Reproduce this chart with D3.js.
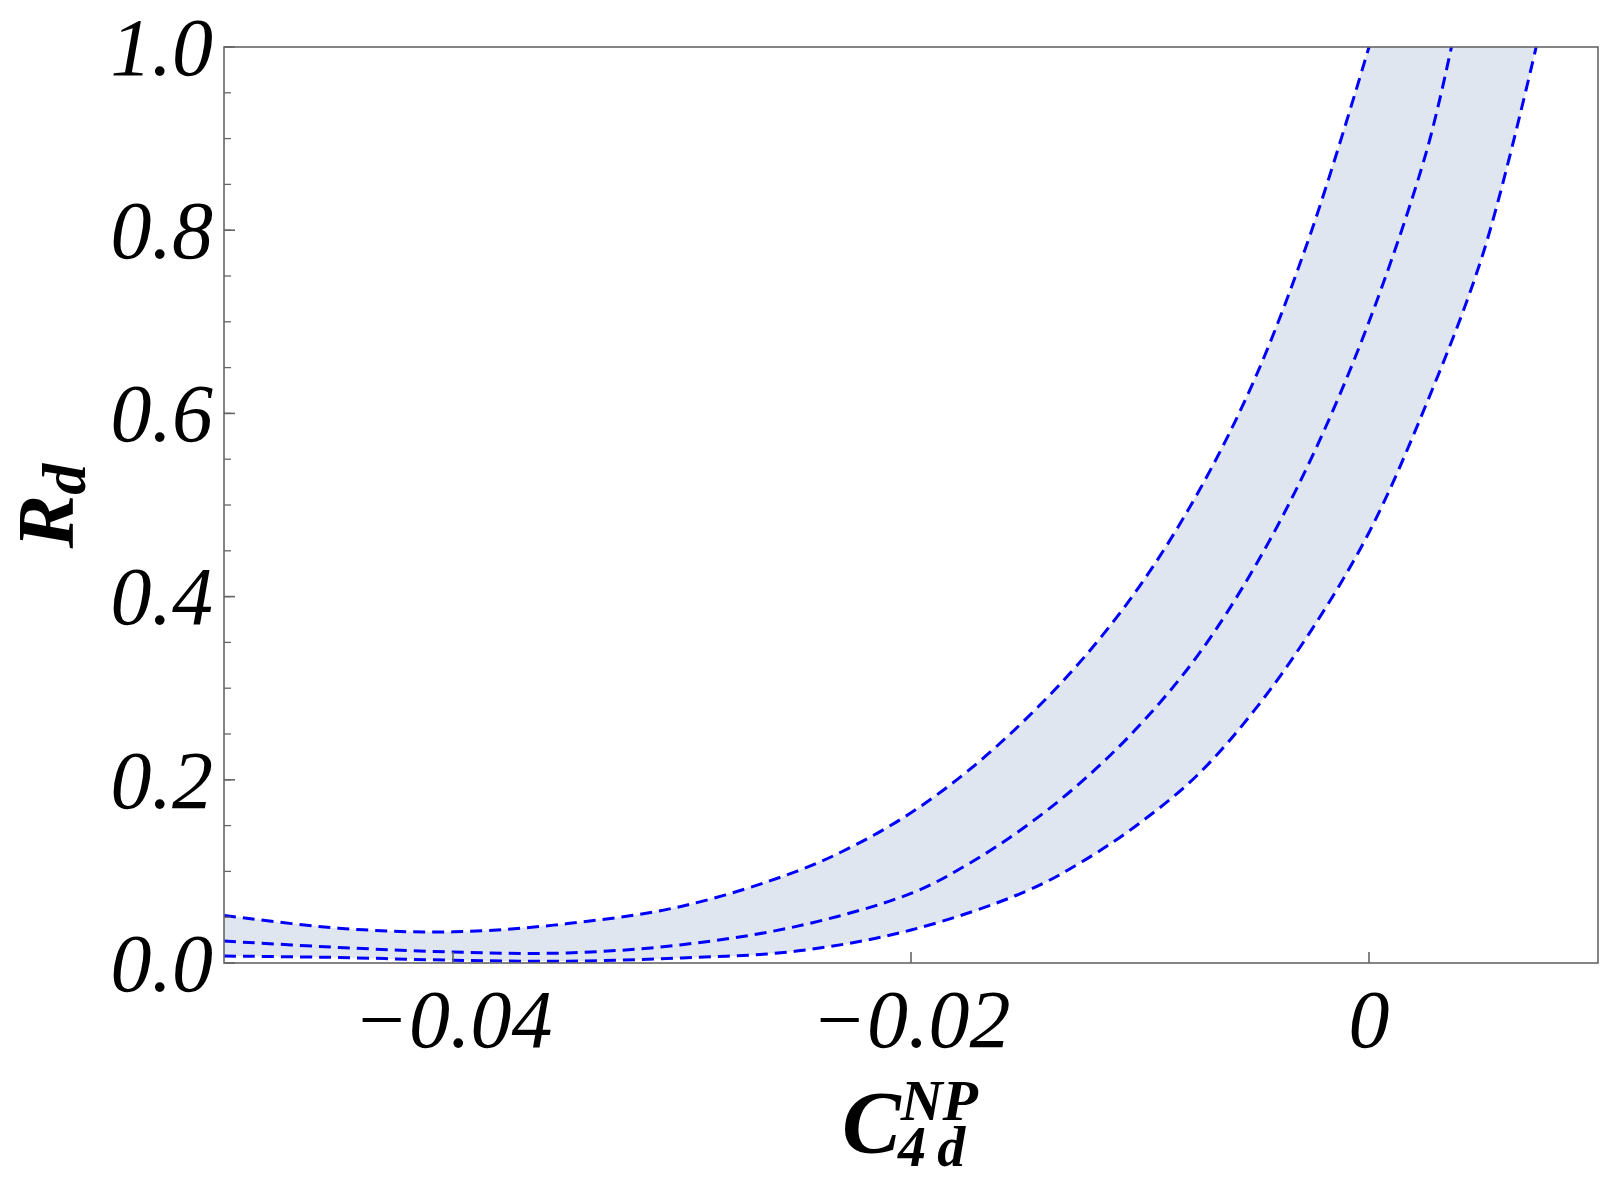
<!DOCTYPE html>
<html>
<head>
<meta charset="utf-8">
<script src="https://cdn.jsdelivr.net/npm/d3@7"></script>
<style>
  body { margin: 0; background: #fff; }
  text { font-family: "Liberation Serif", "Times New Roman", Times, serif; }
</style>
</head>
<body>
<div id="chart"></div>
<script>
// values
const upperC = [-0.05, -0.045, -0.04, -0.035, -0.03, -0.025, -0.0225, -0.02, -0.0175, -0.015, -0.0125, -0.01, -0.0075, -0.005, -0.0025, 0.0];
const upperR = [0.052, 0.038, 0.034, 0.043, 0.062, 0.100, 0.128, 0.164, 0.210, 0.266, 0.332, 0.412, 0.512, 0.637, 0.800, 1.0];

const centralC = [-0.05, -0.045, -0.04, -0.035, -0.03, -0.025, -0.02, -0.0175, -0.015, -0.0125, -0.01, -0.0075, -0.005, -0.0025, 0.0, 0.0025, 0.0036];
const centralR = [0.024, 0.017, 0.012, 0.011, 0.020, 0.040, 0.076, 0.108, 0.149, 0.199, 0.260, 0.335, 0.432, 0.552, 0.700, 0.885, 1.0];

const lowerC = [-0.05, -0.045, -0.04, -0.035, -0.03, -0.025, -0.02, -0.015, -0.0125, -0.01, -0.0075, -0.005, -0.0025, 0.0, 0.0025, 0.005, 0.0073];
const lowerR = [0.0076, 0.006, 0.003, 0.002, 0.0055, 0.013, 0.036, 0.078, 0.111, 0.153, 0.205, 0.276, 0.364, 0.470, 0.610, 0.776, 1.0];

const xTicks = [-0.04, -0.02, 0];
const xTickLabels = ["\u22120.04", "\u22120.02", "0"];
const yTicks = [0, 0.2, 0.4, 0.6, 0.8, 1.0];
const yMinorTicks = d3.range(0, 1.0001, 0.05);

const width = 1600, height = 1181;
const margin = {top: 47, right: 2, bottom: 218, left: 224};

const svg = d3.select("#chart").append("svg")
    .attr("width", width)
    .attr("height", height);

const xScale = d3.scaleLinear()
    .domain([-0.05, 0.01])
    .range([margin.left, width - margin.right]);
const yScale = d3.scaleLinear()
    .domain([0, 1])
    .range([height - margin.bottom, margin.top]);

svg.append("clipPath").attr("id", "plot-clip")
    .append("rect")
    .attr("x", margin.left).attr("y", margin.top)
    .attr("width", width - margin.left - margin.right)
    .attr("height", height - margin.top - margin.bottom);

const zip = (xs, ys) => xs.map((x, i) => [x, ys[i]]);
const upper = zip(upperC, upperR);
const central = zip(centralC, centralR);
const lower = zip(lowerC, lowerR);

const line = d3.line()
    .x(d => xScale(d[0]))
    .y(d => yScale(d[1]))
    .curve(d3.curveCatmullRom.alpha(0.5));

const plot = svg.append("g").attr("clip-path", "url(#plot-clip)");

// band between upper and lower curve
const bandPath = line(upper) + line(lower.slice().reverse()).replace(/^M/, "L") + "Z";
plot.append("path")
    .attr("d", bandPath)
    .attr("fill", "#dfe6f0")
    .attr("stroke", "none");

[upper, central, lower].forEach(curve => {
    plot.append("path")
        .attr("d", line(curve))
        .attr("fill", "none")
        .attr("stroke", "#0000ff")
        .attr("stroke-width", 3)
        .attr("stroke-dasharray", "12,7");
});

// frame
svg.append("rect")
    .attr("x", margin.left).attr("y", margin.top)
    .attr("width", width - margin.left - margin.right)
    .attr("height", height - margin.top - margin.bottom)
    .attr("fill", "none")
    .attr("stroke", "#666")
    .attr("stroke-width", 1.6);

// y axis ticks, inside
const yAxis = svg.append("g");
yAxis.selectAll(".minor")
    .data(yMinorTicks)
    .join("line")
    .attr("x1", margin.left).attr("x2", margin.left + 7)
    .attr("y1", d => yScale(d)).attr("y2", d => yScale(d))
    .attr("stroke", "#666").attr("stroke-width", 1.3);
yAxis.selectAll(".major")
    .data(yTicks)
    .join("line")
    .attr("x1", margin.left).attr("x2", margin.left + 11)
    .attr("y1", d => yScale(d)).attr("y2", d => yScale(d))
    .attr("stroke", "#666").attr("stroke-width", 1.6);
yAxis.selectAll("text")
    .data(yTicks)
    .join("text")
    .attr("x", margin.left - 11)
    .attr("y", d => yScale(d))
    .attr("dy", "0.34em")
    .attr("text-anchor", "end")
    .attr("font-style", "italic")
    .attr("font-size", 82)
    .text(d3.format(".1f"));

// x axis ticks, inside
const xAxis = svg.append("g");
xAxis.selectAll("line")
    .data(xTicks)
    .join("line")
    .attr("x1", d => xScale(d)).attr("x2", d => xScale(d))
    .attr("y1", yScale(0)).attr("y2", yScale(0) - 11)
    .attr("stroke", "#666").attr("stroke-width", 1.6);
xAxis.selectAll("text")
    .data(xTicks)
    .join("text")
    .attr("x", d => xScale(d))
    .attr("y", 1047)
    .attr("text-anchor", "middle")
    .attr("font-style", "italic")
    .attr("font-size", 82)
    .text((d, i) => xTickLabels[i]);

// axis titles
const xTitle = svg.append("text")
    .attr("x", 842)
    .attr("y", 1152)
    .attr("font-style", "italic")
    .attr("font-weight", "bold")
    .attr("font-size", 88);
xTitle.append("tspan").text("C");
xTitle.append("tspan").attr("font-size", 58).attr("dy", -32).text("NP");
xTitle.append("tspan").attr("font-size", 56).attr("x", 898).attr("dy", 46).text("4\u2009d");

const yTitle = svg.append("text")
    .attr("transform", "translate(73,506) rotate(-90)")
    .attr("text-anchor", "middle")
    .attr("font-style", "italic")
    .attr("font-weight", "bold")
    .attr("font-size", 80);
yTitle.append("tspan").text("R");
yTitle.append("tspan").attr("font-size", 62).attr("dy", 12).text("d");
</script>
</body>
</html>
